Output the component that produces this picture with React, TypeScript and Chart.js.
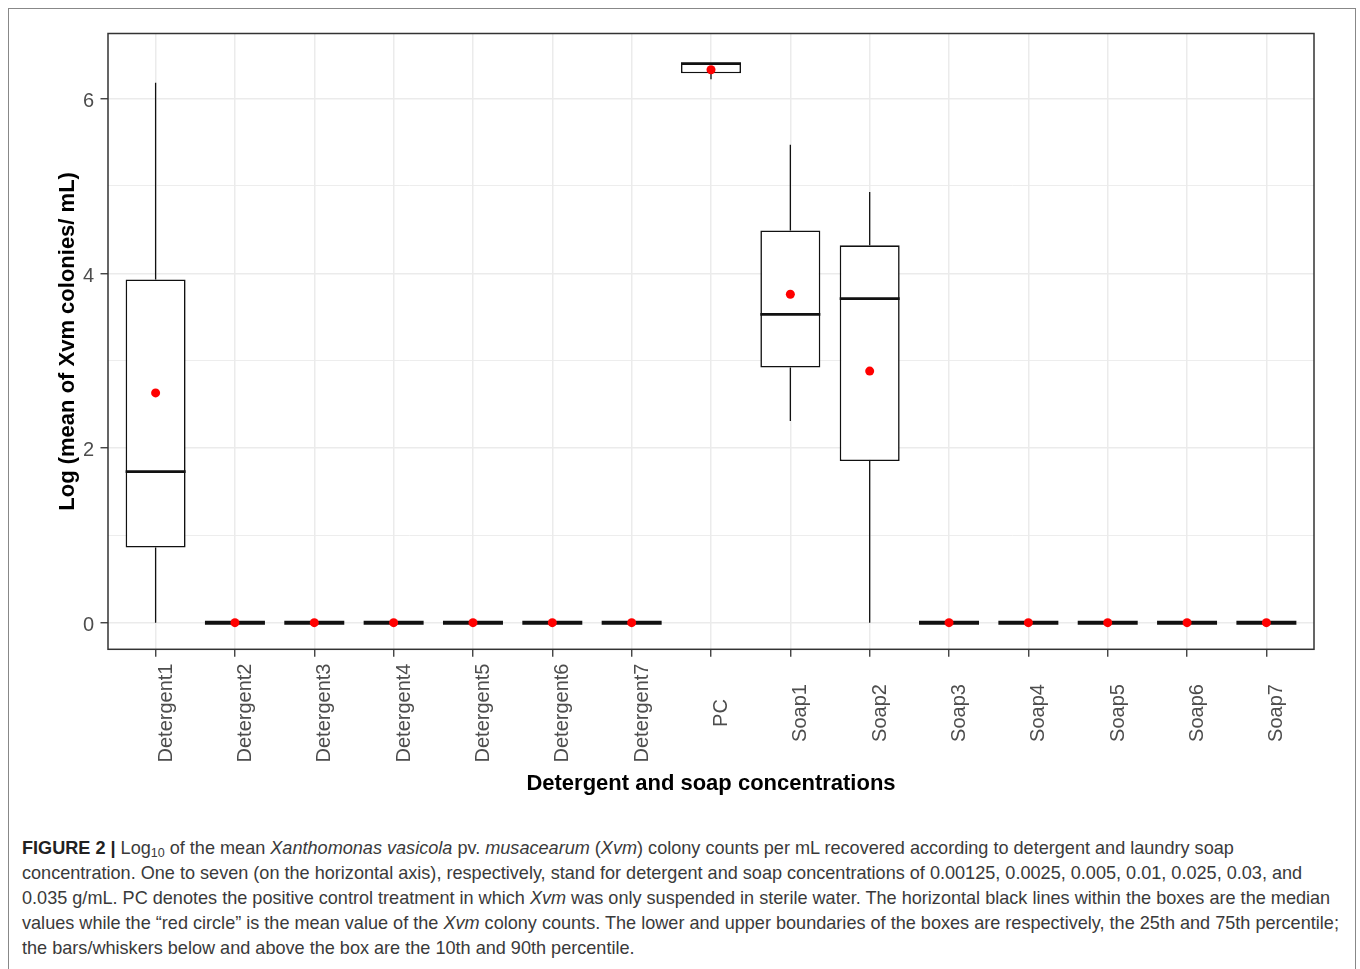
import React, { useEffect, useRef } from 'react';
import { Chart, registerables } from 'chart.js';

Chart.register(...registerables);

const categories = [
  'Detergent1', 'Detergent2', 'Detergent3', 'Detergent4', 'Detergent5', 'Detergent6', 'Detergent7',
  'PC', 'Soap1', 'Soap2', 'Soap3', 'Soap4', 'Soap5', 'Soap6', 'Soap7',
];
const whiskerLow = [0, 0, 0, 0, 0, 0, 0, 6.22, 2.31, 0, 0, 0, 0, 0, 0];
const q1 = [0.86, 0, 0, 0, 0, 0, 0, 6.29, 2.92, 1.85, 0, 0, 0, 0, 0];
const median = [1.73, 0, 0, 0, 0, 0, 0, 6.4, 3.53, 3.71, 0, 0, 0, 0, 0];
const q3 = [3.93, 0, 0, 0, 0, 0, 0, 6.41, 4.49, 4.32, 0, 0, 0, 0, 0];
const whiskerHigh = [6.18, 0, 0, 0, 0, 0, 0, 6.41, 5.47, 4.93, 0, 0, 0, 0, 0];
const means = [2.63, 0, 0, 0, 0, 0, 0, 6.33, 3.76, 2.88, 0, 0, 0, 0, 0];
const yTicks = [0, 1, 2, 3, 4, 5, 6];
const yTickLabels = [0, 2, 4, 6];

const FONT = "'Liberation Sans', Arial, Helvetica, sans-serif";

const boxParts = {
  id: 'boxParts',
  beforeDatasetsDraw(chart: any) {
    const { ctx, chartArea, scales } = chart;
    const x = scales.x;
    const y = scales.y;
    ctx.save();
    ctx.beginPath();
    ctx.rect(chartArea.left, chartArea.top, chartArea.right - chartArea.left, chartArea.bottom - chartArea.top);
    ctx.clip();
    ctx.strokeStyle = '#111';
    ctx.lineWidth = 1.3;
    categories.forEach((_, i) => {
      const px = x.getPixelForValue(i);
      ctx.beginPath();
      ctx.moveTo(px, y.getPixelForValue(whiskerHigh[i]));
      ctx.lineTo(px, y.getPixelForValue(q3[i]));
      ctx.moveTo(px, y.getPixelForValue(q1[i]));
      ctx.lineTo(px, y.getPixelForValue(whiskerLow[i]));
      ctx.stroke();
    });
    ctx.restore();
  },
  afterDatasetDraw(chart: any, args: any) {
    if (args.index !== 0) return;
    const { ctx, scales } = chart;
    const y = scales.y;
    ctx.save();
    ctx.strokeStyle = '#111';
    args.meta.data.forEach((bar: any, i: number) => {
      const half = bar.width / 2;
      const py = y.getPixelForValue(median[i]);
      ctx.lineWidth = q1[i] === q3[i] ? 4 : 2.8;
      ctx.beginPath();
      ctx.moveTo(bar.x - half, py);
      ctx.lineTo(bar.x + half, py);
      ctx.stroke();
    });
    ctx.restore();
  },
  afterDraw(chart: any) {
    const { ctx, chartArea, scales } = chart;
    const x = scales.x;
    const y = scales.y;
    ctx.save();
    ctx.strokeStyle = '#333';
    ctx.lineWidth = 1.5;
    ctx.strokeRect(chartArea.left, chartArea.top, chartArea.right - chartArea.left, chartArea.bottom - chartArea.top);
    ctx.font = `20px ${FONT}`;
    ctx.fillStyle = '#4d4d4d';
    ctx.textAlign = 'center';
    ctx.textBaseline = 'alphabetic';
    categories.forEach((label, i) => {
      const px = x.getPixelForValue(i);
      ctx.save();
      ctx.translate(px + 16, chartArea.bottom + 63.7);
      ctx.rotate(-Math.PI / 2);
      ctx.fillText(label, 0, 0);
      ctx.restore();
    });
    ctx.textAlign = 'right';
    ctx.textBaseline = 'middle';
    yTickLabels.forEach((v) => {
      ctx.fillText(String(v), chartArea.left - 14, y.getPixelForValue(v) + 3);
    });
    ctx.restore();
  },
};

function BoxChart() {
  const ref = useRef<HTMLCanvasElement>(null);
  useEffect(() => {
    if (!ref.current) return;
    const chart = new Chart(ref.current, {
      type: 'bar',
      data: {
        datasets: [
          {
            type: 'bar',
            label: 'box',
            data: categories.map((_, i) => ({ x: i, y: [q1[i], q3[i]] })) as any,
            backgroundColor: '#ffffff',
            borderColor: '#111',
            borderWidth: 1.6,
            borderSkipped: false,
            barPercentage: 0.756,
            categoryPercentage: 1,
            order: 1,
          } as any,
          {
            type: 'scatter',
            label: 'mean',
            data: categories.map((_, i) => ({ x: i, y: means[i] })),
            backgroundColor: '#ff0000',
            borderWidth: 0,
            pointRadius: 4.5,
            order: 0,
          } as any,
        ],
      },
      options: {
        animation: false,
        responsive: false,
        maintainAspectRatio: false,
        layout: { padding: { left: 0, top: 24.5, right: 41, bottom: 0 } },
        plugins: { legend: { display: false }, tooltip: { enabled: false } },
        events: [],
        scales: {
          x: {
            type: 'linear',
            min: -0.6,
            max: 14.6,
            offset: false,
            afterBuildTicks: (s: any) => {
              s.ticks = categories.map((_, i) => ({ value: i }));
            },
            afterFit: (s: any) => {
              s.height = 159.7;
            },
            ticks: { display: false },
            grid: {
              color: '#ebebeb',
              lineWidth: 1.5,
              offset: false,
              tickLength: 7.5,
              tickColor: '#333',
              tickWidth: 1.3,
            },
            border: { display: false },
            title: {
              display: true,
              text: 'Detergent and soap concentrations',
              font: { size: 22, weight: 'bold', family: FONT },
              color: '#000',
              padding: { top: 0, bottom: 11.8 },
            },
          } as any,
          y: {
            type: 'linear',
            min: -0.305,
            max: 6.745,
            afterBuildTicks: (s: any) => {
              s.ticks = yTicks.map((v) => ({ value: v }));
            },
            afterFit: (s: any) => {
              s.width = 99;
            },
            ticks: { display: false },
            grid: {
              color: '#ebebeb',
              lineWidth: (c: any) => (c.tick && c.tick.value % 2 === 0 ? 1.5 : 0.9),
              tickLength: 7.5,
              tickColor: (c: any) => (c.tick && c.tick.value % 2 === 0 ? '#333' : 'rgba(0,0,0,0)'),
              tickWidth: 1.3,
            },
            border: { display: false },
            title: {
              display: true,
              text: 'Log (mean of Xvm colonies/ mL)',
              font: { size: 22, weight: 'bold', family: FONT },
              color: '#000',
              padding: { top: 46, bottom: 0 },
            },
          } as any,
        },
      },
      plugins: [boxParts],
    });
    return () => chart.destroy();
  }, []);
  return <canvas ref={ref} width={1346} height={800} style={{ display: 'block' }} />;
}

const subStyle: React.CSSProperties = { fontSize: '12.5px', verticalAlign: '-3px', lineHeight: 0 };

export default function App() {
  return (
    <div style={{ position: 'fixed', left: 8, top: 8, width: 1348, height: 961, overflow: 'hidden' }}>
      <div
        style={{
          width: 1348,
          boxSizing: 'border-box',
          border: '1px solid #888',
          paddingBottom: 40,
          background: '#fff',
        }}
      >
        <BoxChart />
        <div
          style={{
            marginTop: 26.5,
            paddingLeft: 13,
            fontFamily: FONT,
            fontSize: '18.1px',
            lineHeight: '25px',
            color: '#3a3a3a',
            whiteSpace: 'nowrap',
          }}
        >
          <b style={{ color: '#222' }}>FIGURE 2 |</b> Log<sub style={subStyle}>10</sub> of the mean <i>Xanthomonas vasicola</i> pv. <i>musacearum</i> (<i>Xvm</i>) colony counts per mL recovered according to detergent and laundry soap
          <br />
          concentration. One to seven (on the horizontal axis), respectively, stand for detergent and soap concentrations of 0.00125, 0.0025, 0.005, 0.01, 0.025, 0.03, and
          <br />
          0.035 g/mL. PC denotes the positive control treatment in which <i>Xvm</i> was only suspended in sterile water. The horizontal black lines within the boxes are the median
          <br />
          values while the “red circle” is the mean value of the <i>Xvm</i> colony counts. The lower and upper boundaries of the boxes are respectively, the 25th and 75th percentile;
          <br />
          the bars/whiskers below and above the box are the 10th and 90th percentile.
        </div>
      </div>
    </div>
  );
}
